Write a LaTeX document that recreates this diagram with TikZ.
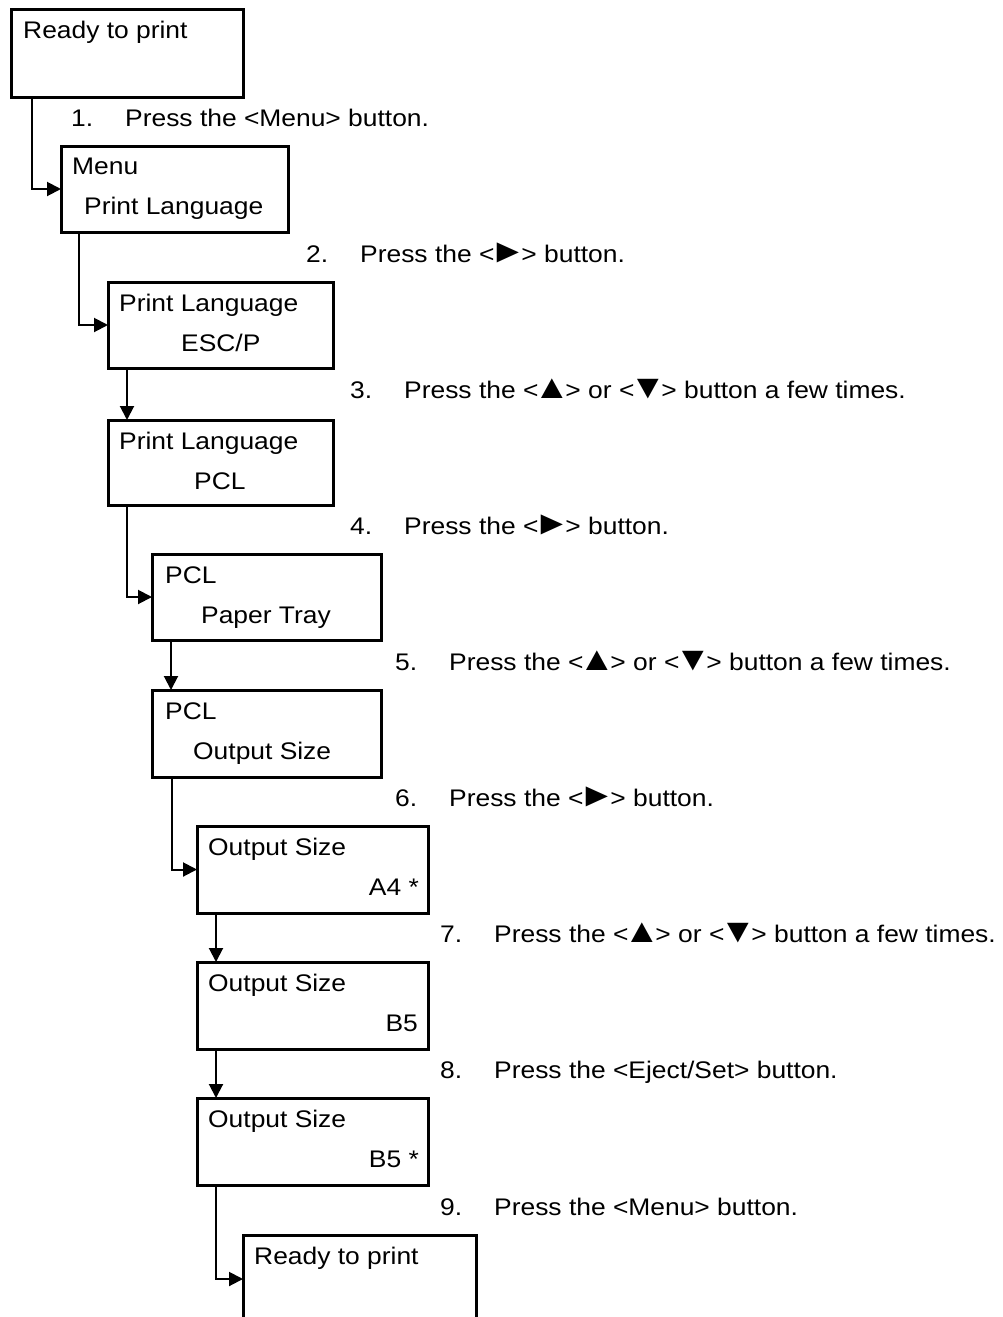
\documentclass[tikz,border=0pt]{standalone}
\usepackage{fontspec}
\setmainfont{Liberation Sans}[FakeStretch=1.1]
\usetikzlibrary{calc}
\usetikzlibrary{arrows.meta}
\newcommand{\btn}[1]{\makebox[27pt]{\scalebox{1.4}{#1}}}

\begin{document}
\begin{tikzpicture}[x=1pt, y=-1pt,
    panel/.style={draw, line width=3pt, outer sep=0pt, inner sep=0pt, anchor=north west,
        minimum width=229pt, minimum height=87pt},
    lcd/.style={anchor=base west, inner sep=0pt, font=\fontsize{24}{28}\selectfont},
    lcdright/.style={lcd, anchor=base east},
    flow/.style={line width=2pt, -{Triangle[length=14pt, width=14pt]}}]
        \useasboundingbox (0,0) rectangle (1002,1317);
        \clip (0,0) rectangle (1002,1317);
        \node[panel, minimum width=232pt, minimum height=88pt] (b1) at (11,9) {};
        \node[panel, minimum width=227pt, minimum height=86pt] (b2) at (61,146) {};
        \node[panel, minimum width=225pt, minimum height=86pt] (b3) at (108,282) {};
        \node[panel, minimum width=225pt, minimum height=85pt] (b4) at (108,420) {};
        \node[panel, minimum height=86pt] (b5) at (152,554) {};
        \node[panel] (b6) at (152,690) {};
        \node[panel, minimum width=231pt] (b7) at (197,826) {};
        \node[panel, minimum width=231pt] (b8) at (197,962) {};
        \node[panel, minimum width=231pt] (b9) at (197,1098) {};
        \node[panel, minimum width=233pt, minimum height=88pt] (b10) at (243,1235) {};
        \node[lcd] (b1a) at ($(b1.north west)+(12,29)$) {Ready to print};
        \node[lcd] (b2a) at ($(b2.north west)+(11,28)$) {Menu};
        \node[lcd] (b2b) at ($(b2.north west)+(23,68)$) {Print Language};
        \node[lcd] (b3a) at ($(b3.north west)+(11,29)$) {Print Language};
        \node[lcd] (b3b) at ($(b3.north west)+(73,69)$) {ESC/P};
        \node[lcd] (b4a) at ($(b4.north west)+(11,29)$) {Print Language};
        \node[lcd] (b4b) at ($(b4.north west)+(86,69)$) {PCL};
        \node[lcd] (b5a) at ($(b5.north west)+(13,29)$) {PCL};
        \node[lcd] (b5b) at ($(b5.north west)+(49,69)$) {Paper Tray};
        \node[lcd] (b6a) at ($(b6.north west)+(13,29)$) {PCL};
        \node[lcd] (b6b) at ($(b6.north west)+(41,69)$) {Output Size};
        \node[lcd] (b7a) at ($(b7.north west)+(11,29)$) {Output Size};
        \node[lcdright] (b7b) at ($(b7.north east)+(-9,69)$) {A4 *};
        \node[lcd] (b8a) at ($(b8.north west)+(11,29)$) {Output Size};
        \node[lcdright] (b8b) at ($(b8.north east)+(-10,69)$) {B5};
        \node[lcd] (b9a) at ($(b9.north west)+(11,29)$) {Output Size};
        \node[lcdright] (b9b) at ($(b9.north east)+(-9,69)$) {B5 *};
        \node[lcd] (b10a) at ($(b10.north west)+(11,29)$) {Ready to print};
        \node[lcd] (s1) at ($(b1.south west)+(60,29)$) {\makebox[54pt][l]{1.}Press the <Menu> button.};
        \node[lcd] (s2) at ($(b2.south west)+(245,30)$) {\makebox[54pt][l]{2.}Press the <\btn{►}> button.};
        \node[lcd] (s3) at ($(b3.south west)+(242,30)$) {\makebox[54pt][l]{3.}Press the <\btn{▲}> or <\btn{▼}> button a few times.};
        \node[lcd] (s4) at ($(b4.south west)+(242,29)$) {\makebox[54pt][l]{4.}Press the <\btn{►}> button.};
        \node[lcd] (s5) at ($(b5.south west)+(243,30)$) {\makebox[54pt][l]{5.}Press the <\btn{▲}> or <\btn{▼}> button a few times.};
        \node[lcd] (s6) at ($(b6.south west)+(243,29)$) {\makebox[54pt][l]{6.}Press the <\btn{►}> button.};
        \node[lcd] (s7) at ($(b7.south west)+(243,29)$) {\makebox[54pt][l]{7.}Press the <\btn{▲}> or <\btn{▼}> button a few times.};
        \node[lcd] (s8) at ($(b8.south west)+(243,29)$) {\makebox[54pt][l]{8.}Press the <Eject/Set> button.};
        \node[lcd] (s9) at ($(b9.south west)+(243,30)$) {\makebox[54pt][l]{9.}Press the <Menu> button.};
        \draw[flow] ($(b1.south west)+(21,0)$) |- (b2.west);
        \draw[flow] ($(b2.south west)+(18,0)$) |- (b3.west);
        \draw[flow] ($(b3.south west)+(19,0)$) -- ($(b4.north west)+(19,0)$);
        \draw[flow] ($(b4.south west)+(19,0)$) |- (b5.west);
        \draw[flow] ($(b5.south west)+(19,0)$) -- ($(b6.north west)+(19,0)$);
        \draw[flow] ($(b6.south west)+(20,0)$) |- (b7.west);
        \draw[flow] ($(b7.south west)+(19,0)$) -- ($(b8.north west)+(19,0)$);
        \draw[flow] ($(b8.south west)+(19,0)$) -- ($(b9.north west)+(19,0)$);
        \draw[flow] ($(b9.south west)+(19,0)$) |- (b10.west);
    \end{tikzpicture}
\end{document}
